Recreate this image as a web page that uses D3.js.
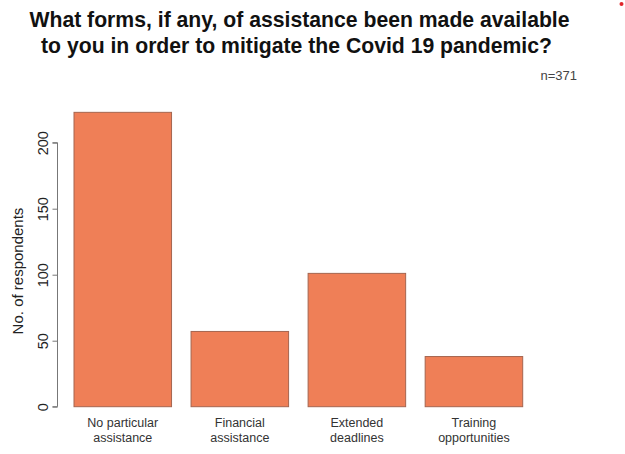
<!DOCTYPE html>
<html>
<head>
<meta charset="utf-8">
<script src="https://cdn.jsdelivr.net/npm/d3@7"></script>
<style>
  body { margin: 0; background: #fff; }
  text { font-family: "Liberation Sans", Arial, sans-serif; }
</style>
</head>
<body>
<svg id="canvas" width="625" height="454"></svg>
<script>
// data
var categories = [["No particular", "assistance"], ["Financial", "assistance"], ["Extended", "deadlines"], ["Training", "opportunities"]];
var counts = [223, 57, 101, 38];
var yTicks = [0, 50, 100, 150, 200];
var titleLines = ["What forms, if any, of assistance been made available", "to you in order to mitigate the Covid 19 pandemic?"];
var sampleNote = "n=371";

var svg = d3.select('#canvas');

var xScale = d3.scaleBand().domain(d3.range(counts.length)).range([74, 522.7]).paddingInner(0.1667).paddingOuter(0);
var yScale = d3.scaleLinear().domain([0, 200]).range([406.7, 142.7]);

// title
svg.selectAll('.title').data(titleLines).enter().append('text')
  .attr('class', 'title')
  .attr('x', (d, i) => i == 0 ? 299.5 : 296.5)
  .attr('y', (d, i) => 27 + i*26)
  .attr('text-anchor', 'middle')
  .style('font-weight', 'bold')
  .style('font-size', '21.2px')
  .style('fill', '#111')
  .text(d => d);

svg.append('text')
  .attr('x', 577).attr('y', 80)
  .attr('text-anchor', 'end')
  .style('font-size', '13px')
  .style('fill', '#444')
  .text(sampleNote);

// small red dot in the corner
svg.append('circle').attr('cx', 621.5).attr('cy', 4).attr('r', 2).style('fill', '#e0262b');

// bars
svg.selectAll('.bar').data(counts).enter().append('rect')
  .attr('class', 'bar')
  .attr('x', (d, i) => xScale(i))
  .attr('y', d => yScale(d))
  .attr('width', xScale.bandwidth())
  .attr('height', d => yScale(0) - yScale(d))
  .style('fill', '#ef7f57')
  .style('stroke', '#a5654f')
  .style('stroke-width', 1);

// y axis
var yAxis = svg.append('g').attr('transform', 'translate(57.5,0)')
  .call(d3.axisLeft(yScale).tickValues(yTicks).tickSize(5).tickPadding(6));
yAxis.select('.domain').attr('d', 'M-5,' + yScale(0) + 'H0V' + yScale(200) + 'H-5').style('stroke', '#777');
yAxis.selectAll('.tick line').style('stroke', '#777');
yAxis.selectAll('.tick text')
  .attr('x', 0).attr('y', 0).attr('dy', null)
  .attr('text-anchor', 'middle')
  .attr('transform', 'translate(-10,0) rotate(-90)')
  .style('font-family', '"Liberation Sans", Arial, sans-serif')
  .style('font-size', '14.5px')
  .style('fill', '#222');

svg.append('text')
  .attr('transform', 'translate(23,271) rotate(-90)')
  .attr('text-anchor', 'middle')
  .style('font-size', '15px')
  .style('fill', '#222')
  .text('No. of respondents');

// category labels
var labels = svg.selectAll('.cat').data(categories).enter().append('text')
  .attr('class', 'cat')
  .attr('text-anchor', 'middle')
  .style('font-size', '12.5px')
  .style('fill', '#333');
labels.selectAll('tspan').data((d, i) => d.map(s => ({ s: s, i: i }))).enter().append('tspan')
  .attr('x', d => xScale(d.i) + xScale.bandwidth()/2)
  .attr('y', (d, j) => 427 + j*14.5)
  .text(d => d.s);
</script>
</body>
</html>
